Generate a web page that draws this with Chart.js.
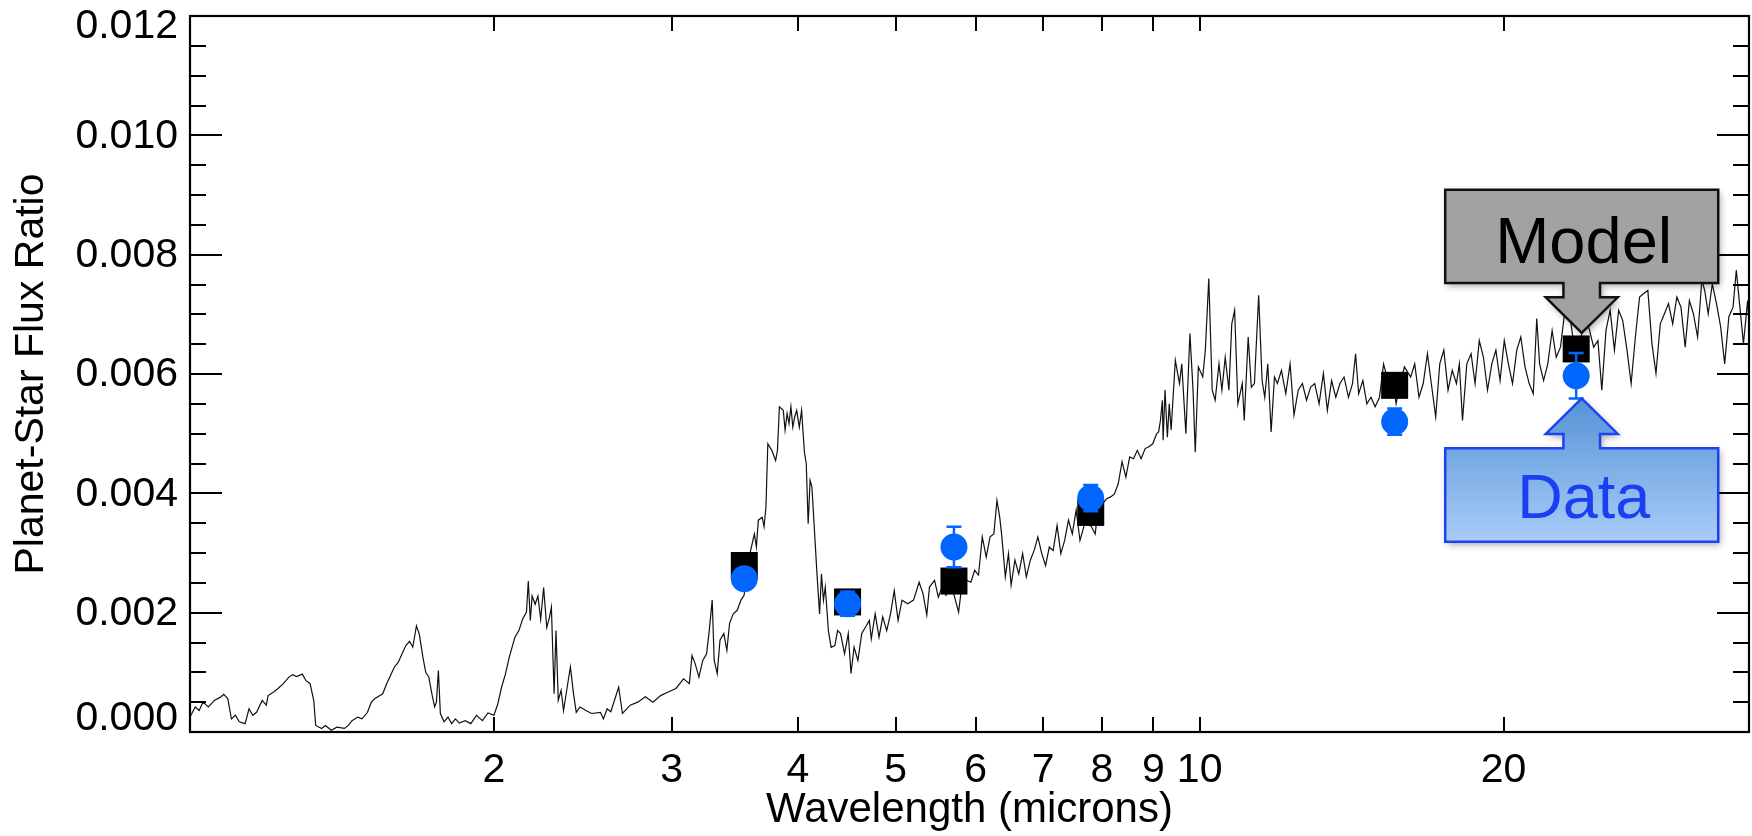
<!DOCTYPE html>
<html>
<head>
<meta charset="utf-8">
<script src="https://cdn.jsdelivr.net/npm/chart.js@4/dist/chart.umd.min.js"></script>
<style>
html,body{margin:0;padding:0;background:#fff;}
#wrap{width:1752px;height:836px;position:relative;}
</style>
</head>
<body>
<div id="wrap"><canvas id="c" width="1752" height="836"></canvas></div>
<script>
// ---------------- DATA ----------------
// Model spectrum: wavelength (microns) and planet/star flux ratio in units of 1e-3
const modelWavelength = [
1.000,1.012,1.021,1.030,1.043,1.057,1.071,1.080,1.090,1.099,
1.109,1.119,1.134,1.144,1.154,1.164,1.179,1.190,1.195,1.210,
1.221,1.237,1.253,1.264,1.275,1.292,1.303,1.315,1.326,1.332,
1.350,1.362,1.380,1.398,1.422,1.435,1.447,1.466,1.480,1.499,
1.512,1.525,1.552,1.566,1.580,1.594,1.608,1.622,1.636,1.650,
1.662,1.676,1.687,1.701,1.712,1.724,1.736,1.747,1.754,1.762,
1.770,1.785,1.801,1.816,1.832,1.848,1.873,1.897,1.922,1.948,
1.973,2.000,2.017,2.035,2.053,2.071,2.098,2.117,2.135,2.154,
2.163,2.173,2.182,2.197,2.211,2.225,2.240,2.256,2.270,2.280,
2.294,2.304,2.316,2.331,2.344,2.361,2.381,2.398,2.413,2.434,
2.466,2.499,2.550,
2.567,2.589,2.611,2.658,2.681,2.729,2.776,2.825,2.874,2.925,
2.976,3.029,3.082,3.123,3.142,3.164,3.192,3.220,3.248,3.268,
3.290,3.305,3.328,3.349,3.378,3.402,3.423,3.452,3.483,3.513,
3.538,3.560,3.591,3.622,3.639,3.655,3.687,3.703,3.719,3.735,
3.769,3.802,3.818,3.835,3.869,3.885,3.903,3.920,3.937,3.954,
3.971,3.989,4.013,4.034,4.060,4.077,4.095,4.113,4.130,4.156,
4.178,4.203,4.221,4.240,4.258,4.288,4.315,4.352,4.379,4.409,
4.449,4.487,4.515,4.547,4.587,4.627,4.668,4.708,4.729,4.771,
4.813,4.854,4.898,4.941,4.983,5.027,5.072,5.138,5.207,5.274,
5.321,5.367,5.400,5.463,5.510,5.558,5.608,5.656,5.706,5.771,
5.832,5.883,5.935,5.986,6.039,6.091,6.146,6.200,6.254,6.298,
6.338,6.365,6.420,6.466,6.505,6.562,6.620,6.678,6.735,6.796,
6.855,6.914,6.976,7.037,7.097,7.160,7.224,7.286,7.350,7.414,
7.479,7.545,7.611,7.711,7.813,7.880,7.951,8.019,8.090,8.161,
8.234,8.305,8.378,8.451,8.525,8.600,8.674,8.750,8.831,8.906,
8.985,9.066,9.106,9.144,9.184,
9.20,9.24,9.29,9.33,9.37,9.46,9.55,9.60,9.69,9.78,
9.85,9.90,9.97,10.07,10.13,10.21,10.29,10.36,10.45,10.52,
10.60,10.69,10.76,10.83,10.91,11.02,11.07,11.17,11.25,11.33,
11.44,11.53,11.60,11.68,11.77,11.86,11.94,12.05,12.17,12.29,
12.40,12.52,12.64,12.76,12.88,13.00,13.13,13.26,13.38,13.51,
13.64,13.77,13.90,14.04,14.17,14.27,14.37,14.51,14.64,14.78,
14.92,15.07,15.21,15.36,15.50,15.65,15.80,15.95,16.18,16.33,
16.49,16.65,16.81,16.96,17.13,17.29,17.45,17.62,17.79,17.96,
18.08,18.21,18.39,18.57,18.74,18.92,19.10,19.28,19.47,19.65,
19.84,20.03,20.22,20.41,20.61,20.80,21.00,21.20,21.40,21.57,
21.71,21.91,22.12,22.34,22.55,22.77,22.98,23.20,23.42,23.64,
23.87,24.10,24.33,24.56,24.80,25.02,25.26,25.50,25.75,26.00,
26.24,26.50,26.75,27.01,27.27,27.53,27.79,28.05,28.31,28.59,
28.86,29.13,29.41,29.69,29.97,30.26,30.55,30.83,31.13,31.43,
31.64,31.89,32.19,32.50,32.81,33.11,33.43,33.75,34.00,34.23,
34.56,34.89,35.00
];
const modelFluxE3 = [
0.25,0.42,0.36,0.50,0.42,0.53,0.58,0.63,0.56,0.22,
0.28,0.17,0.14,0.39,0.28,0.33,0.53,0.45,0.61,0.67,
0.72,0.81,0.92,0.96,0.93,0.97,0.86,0.81,0.53,0.11,
0.06,0.11,0.03,0.08,0.06,0.11,0.19,0.25,0.22,0.33,
0.50,0.56,0.64,0.81,0.95,1.09,1.17,1.31,1.45,1.52,
1.42,1.78,1.64,1.25,1.00,0.92,0.64,0.42,0.50,1.03,
0.31,0.17,0.25,0.14,0.22,0.15,0.19,0.14,0.28,0.19,
0.32,0.28,0.46,0.75,0.97,1.25,1.59,1.70,1.89,2.01,
2.53,1.87,2.28,2.14,2.28,1.89,2.42,1.75,1.92,2.09,
0.64,1.70,0.53,0.70,0.36,0.70,1.09,0.64,0.33,0.42,
0.36,0.31,0.33,
0.22,0.39,0.34,0.75,0.31,0.45,0.50,0.59,0.50,0.61,
0.67,0.73,0.89,0.81,1.28,1.15,0.92,1.20,1.31,1.70,
2.21,1.20,0.98,1.54,1.65,1.37,1.82,1.98,2.04,2.21,
2.29,2.65,3.04,3.32,3.10,3.55,3.60,3.44,3.77,4.83,
4.72,4.55,4.72,5.45,5.39,5.06,5.34,5.17,5.45,5.11,
5.28,5.39,5.11,5.39,4.69,4.50,3.49,4.22,4.11,3.32,
2.65,1.98,2.65,2.21,2.43,1.70,1.42,1.45,1.70,1.65,
1.31,1.65,0.98,1.42,1.20,1.65,1.76,1.87,1.56,1.98,
1.59,1.93,1.70,1.98,2.37,1.87,2.21,2.15,2.21,2.51,
2.32,1.96,2.43,2.54,2.26,2.43,2.29,2.43,2.32,2.01,
2.65,2.54,2.51,2.71,2.63,3.27,2.93,3.27,3.32,3.88,
3.60,3.32,2.60,2.99,2.46,2.88,2.65,2.99,2.60,2.88,
3.04,3.27,2.99,2.79,3.10,3.04,3.46,2.99,3.21,3.55,
3.32,3.72,3.21,3.55,3.44,3.32,3.88,3.83,3.91,3.94,
3.99,4.16,4.53,4.27,4.61,4.58,4.72,4.58,4.75,4.78,
4.83,5.00,5.03,5.22,5.56,
4.89,5.73,4.94,5.50,5.06,6.23,5.84,6.17,5.00,6.68,
5.73,4.69,6.12,5.95,6.40,7.60,5.73,5.56,6.17,5.73,
6.28,5.73,6.84,7.07,5.50,5.84,5.22,6.62,5.78,5.84,
7.32,5.89,5.61,6.17,5.03,5.95,5.84,6.06,5.67,6.17,
5.31,5.73,5.84,5.56,5.78,5.84,5.50,6.01,5.39,5.89,
5.61,5.84,5.95,5.61,5.84,6.34,5.67,5.89,5.50,5.61,
5.45,5.61,6.17,5.89,6.01,5.50,5.84,6.12,5.95,6.17,
5.61,5.84,6.34,5.84,5.28,6.17,6.40,5.73,6.06,5.84,
6.17,5.22,6.17,6.34,5.84,6.56,6.28,5.73,6.17,6.40,
5.89,6.56,6.17,5.84,6.40,6.62,6.12,5.84,5.67,6.93,
6.17,5.89,6.17,6.73,6.28,6.45,7.01,7.12,6.62,6.40,
6.62,7.01,6.73,6.45,6.56,5.73,6.73,7.07,6.40,7.07,
6.90,6.40,5.84,6.62,7.29,7.35,7.40,6.51,6.01,6.84,
7.01,7.18,6.84,7.29,7.12,6.45,7.23,7.01,6.62,7.57,
7.40,7.01,7.51,7.18,6.79,6.17,6.96,7.12,7.74,7.23,
6.51,7.23,6.84
];

// Band-integrated model points (black squares)
const bandWavelength = [3.54, 4.48, 5.71, 7.80, 15.6, 23.6];
const bandModelFlux  = [0.00279, 0.00218, 0.00253, 0.00368, 0.00581, 0.00642];

// Observed data (blue circles) with 1-sigma errors
const obsWavelength = [3.54, 4.48, 5.71, 7.80, 15.6, 23.6];
const obsFlux       = [0.00257, 0.00215, 0.00310, 0.00392, 0.00520, 0.00597];
const obsError      = [0.00014, 0.00020, 0.00034, 0.00022, 0.00022, 0.00038];

// Axis ticks
const xTickValues = [2, 3, 4, 5, 6, 7, 8, 9, 10, 20];
const yMajorTicks = [0, 0.002, 0.004, 0.006, 0.008, 0.010, 0.012];
const yTickLabels = ['0.000', '0.002', '0.004', '0.006', '0.008', '0.010', '0.012'];
const yMinorTicks = [0.0005,0.001,0.0015,0.0025,0.003,0.0035,0.0045,0.005,0.0055,
                     0.0065,0.007,0.0075,0.0085,0.009,0.0095,0.0105,0.011,0.0115];

// Callouts (text + the data point they point at)
const calloutText = ['Model', 'Data'];
const calloutAnchorX = [23.9, 23.9];
const calloutAnchorY = [0.00669, 0.00559];

// ---------------- CHART ----------------
const FONT = '"Liberation Sans", Arial, Helvetica, sans-serif';
Chart.defaults.font.family = FONT;
Chart.defaults.color = '#000';

const spectrumPoints = modelWavelength.map((w, i) => ({x: w, y: modelFluxE3[i] / 1000}));
const bandPoints = bandWavelength.map((w, i) => ({x: w, y: bandModelFlux[i]}));
const obsPoints = obsWavelength.map((w, i) => ({x: w, y: obsFlux[i]}));

const BLUE = '#0066ff';

const framePlugin = {
  id: 'frame',
  afterDatasetsDraw(chart) {
    const ctx = chart.ctx;
    const xs = chart.scales.x, ys = chart.scales.y;
    ctx.save();
    ctx.strokeStyle = BLUE;
    ctx.lineWidth = 2.5;
    obsWavelength.forEach((w, i) => {
      const px = xs.getPixelForValue(w);
      const pt = ys.getPixelForValue(obsFlux[i] + obsError[i]);
      const pb = ys.getPixelForValue(obsFlux[i] - obsError[i]);
      ctx.beginPath();
      ctx.moveTo(px, pt); ctx.lineTo(px, pb);
      ctx.moveTo(px - 7.5, pt); ctx.lineTo(px + 7.5, pt);
      ctx.moveTo(px - 7.5, pb); ctx.lineTo(px + 7.5, pb);
      ctx.stroke();
    });
    ctx.restore();
  },
  afterDraw(chart) {
    const ctx = chart.ctx;
    const {left, right, top, bottom} = chart.chartArea;
    const xs = chart.scales.x, ys = chart.scales.y;
    ctx.save();
    ctx.strokeStyle = '#000';
    ctx.lineWidth = 2;
    ctx.beginPath();
    yMajorTicks.forEach(v => {
      const py = Math.round(ys.getPixelForValue(v));
      ctx.moveTo(left, py); ctx.lineTo(left + 32, py);
      ctx.moveTo(right, py); ctx.lineTo(right - 32, py);
    });
    yMinorTicks.forEach(v => {
      const py = Math.round(ys.getPixelForValue(v));
      ctx.moveTo(left, py); ctx.lineTo(left + 16, py);
      ctx.moveTo(right, py); ctx.lineTo(right - 16, py);
    });
    xTickValues.forEach(v => {
      const px = Math.round(xs.getPixelForValue(v));
      ctx.moveTo(px, bottom); ctx.lineTo(px, bottom - 15);
      ctx.moveTo(px, top); ctx.lineTo(px, top + 15);
    });
    ctx.stroke();
    ctx.lineWidth = 2.2;
    ctx.strokeRect(left, top, right - left, bottom - top);

    // y tick labels (end labels kept inside the frame height, as in the original)
    ctx.font = '41px ' + FONT;
    ctx.fillStyle = '#000';
    ctx.textAlign = 'right';
    ctx.textBaseline = 'middle';
    const last = yMajorTicks.length - 1;
    yMajorTicks.forEach((v, i) => {
      let py = ys.getPixelForValue(v);
      if (i === 0) py -= 13;
      else if (i === last) py += 11;
      else py += 1;
      ctx.fillText(yTickLabels[i], left - 12, py);
    });
    ctx.restore();

    calloutText.forEach((t, i) => {
      const tipX = xs.getPixelForValue(calloutAnchorX[i]);
      const tipY = ys.getPixelForValue(calloutAnchorY[i]);
      const dir = i === 0 ? 1 : -1;
      drawCallout(ctx, tipX, tipY, dir, t, i === 0);
    });
  }
};

function drawCallout(ctx, tipX, tipY, dir, text, isModel) {
  const halfW = 136.5, shaftHW = 18.3, headHW = 36, headLen = 35.5, shaftLen = 14.3, boxH = 93.4;
  const headBaseY = tipY - dir * headLen;
  const boxEdgeY = headBaseY - dir * shaftLen;
  const boxFarY = boxEdgeY - dir * boxH;
  ctx.save();
  ctx.beginPath();
  ctx.moveTo(tipX, tipY);
  ctx.lineTo(tipX - headHW, headBaseY);
  ctx.lineTo(tipX - shaftHW, headBaseY);
  ctx.lineTo(tipX - shaftHW, boxEdgeY);
  ctx.lineTo(tipX - halfW, boxEdgeY);
  ctx.lineTo(tipX - halfW, boxFarY);
  ctx.lineTo(tipX + halfW, boxFarY);
  ctx.lineTo(tipX + halfW, boxEdgeY);
  ctx.lineTo(tipX + shaftHW, boxEdgeY);
  ctx.lineTo(tipX + shaftHW, headBaseY);
  ctx.lineTo(tipX + headHW, headBaseY);
  ctx.closePath();
  if (isModel) {
    ctx.fillStyle = '#a2a2a2';
  } else {
    const g = ctx.createLinearGradient(0, tipY, 0, boxFarY);
    g.addColorStop(0, '#5593d6');
    g.addColorStop(1, '#a9ccf8');
    ctx.fillStyle = g;
  }
  ctx.shadowColor = 'rgba(0,0,0,0.35)';
  ctx.shadowBlur = 7;
  ctx.shadowOffsetX = 2;
  ctx.shadowOffsetY = 3;
  ctx.fill();
  ctx.shadowColor = 'rgba(0,0,0,0)';
  ctx.lineWidth = 2.5;
  ctx.strokeStyle = isModel ? '#111' : '#1d42f5';
  ctx.stroke();
  const cy = (boxEdgeY + boxFarY) / 2;
  ctx.font = (isModel ? '65px ' : '63px ') + FONT;
  ctx.textAlign = 'center';
  ctx.textBaseline = 'alphabetic';
  ctx.fillStyle = isModel ? '#000' : '#1a3ff2';
  ctx.fillText(text, tipX + 2, cy + (isModel ? 27 : 23));
  ctx.restore();
}

new Chart(document.getElementById('c'), {
  type: 'scatter',
  data: {
    datasets: [
      {
        label: 'Data', data: obsPoints, order: 1,
        pointStyle: 'circle', pointRadius: 13.5, pointHoverRadius: 13.5,
        backgroundColor: BLUE, borderColor: BLUE, borderWidth: 0
      },
      {
        label: 'Model (band-averaged)', data: bandPoints, order: 2,
        pointStyle: 'rect', pointRadius: 19.1, pointHoverRadius: 19.1,
        backgroundColor: '#000', borderColor: '#000', borderWidth: 0
      },
      {
        label: 'Model spectrum', data: spectrumPoints, order: 3,
        showLine: true, pointRadius: 0, pointHoverRadius: 0,
        borderColor: '#111', borderWidth: 1.2, tension: 0, fill: false
      }
    ]
  },
  options: {
    responsive: false,
    animation: false,
    devicePixelRatio: 1,
    events: [],
    layout: {autoPadding: false, padding: {top: 16, right: 3, left: 0, bottom: 0}},
    plugins: {legend: {display: false}, tooltip: {enabled: false}},
    scales: {
      x: {
        type: 'logarithmic', position: 'bottom', min: 1, max: 35,
        grid: {display: false, drawTicks: false},
        border: {display: false},
        afterBuildTicks: s => { s.ticks = xTickValues.map(v => ({value: v})); },
        afterFit: s => { s.height = 104; s.paddingLeft = 0; s.paddingRight = 0; },
        ticks: {
          font: {size: 41}, color: '#000', padding: 14,
          autoSkip: false, maxRotation: 0, minRotation: 0,
          callback: v => String(v)
        },
        title: {
          display: true, text: 'Wavelength (microns)', color: '#000',
          font: {size: 42}, padding: {top: 0, bottom: 0}
        }
      },
      y: {
        type: 'linear', position: 'left', min: 0, max: 0.012,
        grid: {display: false, drawTicks: false},
        border: {display: false},
        afterBuildTicks: s => { s.ticks = yMajorTicks.map(v => ({value: v})); },
        afterFit: s => { s.width = 190; s.paddingTop = 0; s.paddingBottom = 0; },
        ticks: {display: false},
        title: {
          display: true, text: 'Planet-Star Flux Ratio', color: '#000',
          font: {size: 41}, padding: {top: 7, bottom: 0}
        }
      }
    }
  },
  plugins: [framePlugin]
});
</script>
</body>
</html>
